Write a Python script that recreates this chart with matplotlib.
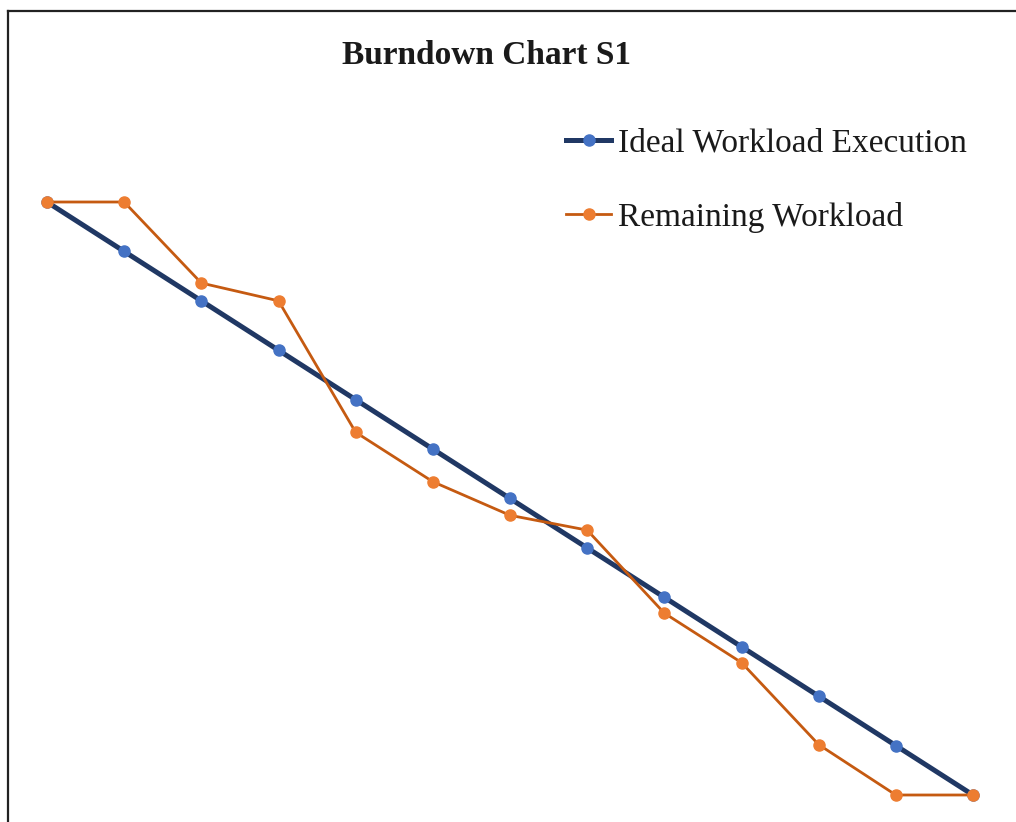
import matplotlib.pyplot as plt
from matplotlib.lines import Line2D

# Burndown data (sprint days vs. remaining workload)
days = list(range(13))
ideal = [60, 55, 50, 45, 40, 35, 30, 25, 20, 15, 10, 5, 0]
remaining = [60, 60, 51.8, 50, 36.7, 31.7, 28.3, 26.8, 18.4, 13.4, 5.1, 0, 0]

W, H = 1016, 822
fig = plt.figure(figsize=(W / 100, H / 100), dpi=100)
plt.rcParams['font.family'] = ['Liberation Serif', 'DejaVu Serif']

# axes placed so the data spans the same pixels as the original
left, right, top, bottom = 47, 973, 202, 795
ax = fig.add_axes([left / W, 1 - bottom / H, (right - left) / W, (bottom - top) / H])
ax.set_xlim(0, 12)
ax.set_ylim(0, 60)
ax.axis('off')

ax.plot(days, ideal, color='#203864', linewidth=3.6, marker='o', markersize=8,
        markerfacecolor='#4472C4', markeredgecolor='#4472C4', clip_on=False,
        zorder=3, label='Ideal Workload Execution')
ax.plot(days, remaining, color='#C55A11', linewidth=2.0, marker='o', markersize=8,
        markerfacecolor='#ED7D31', markeredgecolor='#ED7D31', clip_on=False,
        zorder=4, label='Remaining Workload')

# title
fig.text(487 / W, 1 - 55 / H, 'Burndown Chart S1', ha='center', va='center',
         fontsize=24, fontweight='bold', color='#1a1a1a')

# legend
leg = fig.legend(loc='upper left', bbox_to_anchor=(566 / W, 1 - 128 / H),
                 frameon=False, fontsize=24, handlelength=1.35, handletextpad=0.2,
                 labelspacing=1.3, borderaxespad=0, borderpad=0)
for t in leg.get_texts():
    t.set_color('#1a1a1a')

# frame lines at the top and left edges
fig.add_artist(Line2D([7.5 / W, 7.5 / W], [0, 1 - 11 / H], transform=fig.transFigure,
                      color='#222222', linewidth=1.6))
fig.add_artist(Line2D([7.5 / W, 1], [1 - 11 / H, 1 - 11 / H], transform=fig.transFigure,
                      color='#222222', linewidth=1.6))

plt.savefig('out.png', dpi=100)
plt.close()
